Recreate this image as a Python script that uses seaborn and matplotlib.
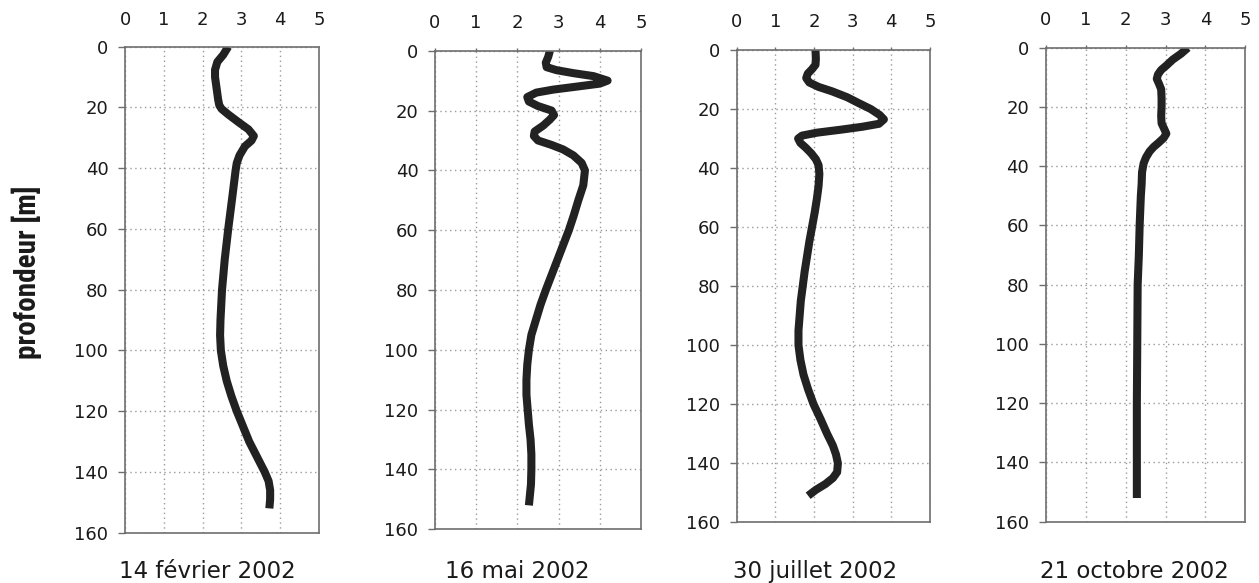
import matplotlib
matplotlib.use("Agg")
import matplotlib.pyplot as plt
import seaborn as sns
import pandas as pd

# ---- data ----
dates = ["14 février 2002", "16 mai 2002", "30 juillet 2002", "21 octobre 2002"]

depth_feb = [0, 2.7, 5, 7.6, 10, 13.7, 17.4, 19.3, 20.5, 22.3, 24.8, 27.2, 29.4, 30.9, 32.8, 35.8, 38.3, 40.7,
             50, 60, 70, 80, 90, 95, 100, 105, 110, 115, 120, 125, 130, 135, 140, 143, 146, 149, 152]
val_feb = [2.66, 2.53, 2.38, 2.32, 2.32, 2.36, 2.40, 2.43, 2.49, 2.66, 2.92, 3.18, 3.32, 3.26, 3.09, 2.95, 2.88, 2.85,
           2.76, 2.66, 2.57, 2.50, 2.46, 2.45, 2.47, 2.53, 2.62, 2.74, 2.88, 3.04, 3.20, 3.40, 3.60, 3.70, 3.74, 3.74, 3.72]

depth_mai = [0, 2, 4, 5.5, 6.5, 7.5, 8.5, 10, 11, 12, 13, 14, 15.5, 17, 18.5, 20, 21.5, 23, 25, 27, 28.5, 30,
             31.5, 33, 35, 37.5, 40, 45, 50, 55, 60, 65, 70, 75, 80, 85, 90, 95, 100, 105, 110, 115, 120, 125,
             130, 135, 140, 145, 152]
val_mai = [2.79, 2.75, 2.69, 2.71, 2.95, 3.36, 3.85, 4.19, 4.00, 3.44, 2.87, 2.46, 2.24, 2.28, 2.50, 2.83, 2.89,
           2.79, 2.63, 2.42, 2.40, 2.50, 2.83, 3.11, 3.36, 3.56, 3.64, 3.60, 3.48, 3.37, 3.25, 3.11, 2.97, 2.83,
           2.69, 2.56, 2.45, 2.34, 2.28, 2.24, 2.22, 2.22, 2.25, 2.28, 2.32, 2.34, 2.34, 2.33, 2.28]

depth_jul = [0, 3, 5, 6.5, 8, 9.5, 11, 12.5, 14, 16, 18, 20, 22, 23.5, 25, 26, 27, 28, 29, 30, 31.5, 33, 35, 37,
             39, 42, 46, 50, 55, 60, 65, 70, 75, 80, 85, 90, 95, 100, 105, 110, 115, 120, 125, 130, 134, 137,
             140, 143, 145, 147, 149, 151]
val_jul = [2.04, 2.05, 2.04, 1.95, 1.84, 1.80, 1.88, 2.12, 2.47, 2.86, 3.16, 3.47, 3.70, 3.81, 3.68, 3.25, 2.69,
           2.08, 1.69, 1.59, 1.65, 1.78, 1.93, 2.05, 2.12, 2.14, 2.12, 2.08, 2.02, 1.95, 1.88, 1.82, 1.76, 1.71,
           1.66, 1.63, 1.60, 1.60, 1.65, 1.73, 1.85, 1.99, 2.17, 2.34, 2.49, 2.57, 2.62, 2.60, 2.49, 2.30, 2.05, 1.85]

depth_oct = [0, 2, 4, 6, 7.5, 9, 10.5, 12, 14, 17, 20, 23, 25.5, 27.5, 29, 30.5, 32, 33.5, 35, 37, 39, 42, 46,
             50, 60, 70, 80, 100, 120, 140, 152]
val_oct = [3.56, 3.39, 3.18, 3.02, 2.89, 2.81, 2.78, 2.83, 2.89, 2.90, 2.90, 2.89, 2.90, 2.97, 3.02, 2.95, 2.83,
           2.70, 2.60, 2.51, 2.45, 2.41, 2.40, 2.38, 2.35, 2.33, 2.30, 2.29, 2.28, 2.28, 2.28]

x_ticks = [0, 1, 2, 3, 4, 5]
y_ticks = [0, 20, 40, 60, 80, 100, 120, 140, 160]
y_label = "profondeur [m]"

profiles = [(depth_feb, val_feb), (depth_mai, val_mai), (depth_jul, val_jul), (depth_oct, val_oct)]

# ---- layout (figure fractions) ----
axes_rects = [
    [0.0993, 0.0863, 0.1541, 0.8336],
    [0.3455, 0.0921, 0.1636, 0.8209],
    [0.5851, 0.1041, 0.1535, 0.8101],
    [0.8308, 0.1051, 0.1583, 0.8130],
]
caption_x = [207.5 / 1259, 517.5 / 1259, 815 / 1259, 1134 / 1259]

sns.set_theme(style="white")
plt.rcParams["font.family"] = ["DejaVu Sans"]

fig = plt.figure(figsize=(12.59, 5.83), dpi=100)

spine_col = "#6e6e6e"
txt_col = "#1a1a1a"
for i, ((d, v), rect) in enumerate(zip(profiles, axes_rects)):
    ax = fig.add_axes(rect)
    df = pd.DataFrame({"valeur": v, "profondeur": d})
    sns.lineplot(data=df, x="valeur", y="profondeur", sort=False, estimator=None,
                 ax=ax, color="#222222", linewidth=5.8,
                 solid_capstyle="butt", solid_joinstyle="round")
    ax.set_xlim(0, 5)
    ax.set_ylim(160, 0)
    ax.set_xticks(x_ticks)
    ax.set_yticks(y_ticks)
    ax.xaxis.tick_top()
    ax.set_xlabel("")
    ax.set_ylabel("")
    ax.grid(True, linestyle=(0, (1, 2.5)), color="#9a9a9a", linewidth=1.0)
    for s in ax.spines.values():
        s.set_color(spine_col)
        s.set_linewidth(1.2)
    ax.tick_params(axis="y", which="both", left=True, length=5, width=1.0,
                   color=spine_col, pad=7, labelsize=13, labelcolor=txt_col)
    if i == 0:
        ax.tick_params(axis="x", top=True, bottom=False, length=0, pad=13,
                       labelsize=13, labelcolor=txt_col)
    else:
        ax.tick_params(axis="x", top=True, bottom=False, length=2.5, width=1.0,
                       color=spine_col, pad=11, labelsize=13, labelcolor=txt_col)
    fig.text(caption_x[i], 0.019, dates[i], ha="center", va="center",
             fontsize=16.5, color=txt_col)

fig.text(27 / 1259, 1 - 272 / 583, y_label, rotation=90, ha="center", va="center",
         fontsize=21, fontweight="bold", color=txt_col,
         family=["Liberation Sans Narrow", "Roboto Condensed", "DejaVu Sans"],
         fontstretch="condensed")

fig.savefig("out.png", dpi=100)
